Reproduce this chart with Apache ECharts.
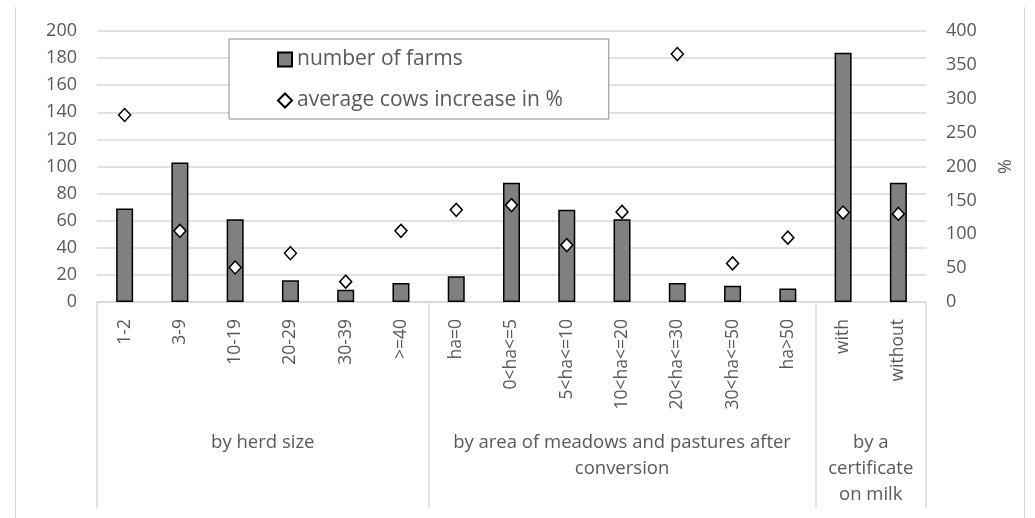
<!DOCTYPE html>
<html>
<head>
<meta charset="utf-8">
<script src="https://cdn.jsdelivr.net/npm/echarts@6/dist/echarts.min.js"></script>
<style>html,body{margin:0;padding:0;background:#fff}#chart{width:1035px;height:518px}</style>
</head>
<body>
<div id="chart"></div>
<script>
const categories = ['1-2','3-9','10-19','20-29','30-39','>=40','ha=0','0<ha<=5','5<ha<=10','10<ha<=20','20<ha<=30','30<ha<=50','ha>50','with','without'];
const numberOfFarms = [69, 103, 61, 16, 9, 14, 19, 88, 68, 61, 14, 12, 10, 184, 88];
const cowsIncrease = [276, 105, 51, 72, 30, 105, 136, 143, 84, 133, 366, 57, 95, 132, 130];
const groupNames = ['by herd size', 'by area of meadows and pastures after\nconversion', 'by a\ncertificate\non milk'];
const groupSizes = [6, 7, 2];
const leftTicks = {min: 0, max: 200, interval: 20};
const rightTicks = {min: 0, max: 400, interval: 50};

// build half-step group axis: index i corresponds to position i/2 categories
const total = categories.length;
const groupAxisData = new Array(total * 2 + 1).fill('');
const boundaryIdx = new Set([0]);
let start = 0;
groupNames.forEach((g, k) => {
  const center = start * 2 + groupSizes[k];
  groupAxisData[center] = g;
  start += groupSizes[k];
  boundaryIdx.add(start * 2);
});

const FONT = 'Open Sans';
const TXT = '#595959';
const GRID = '#d9d9d9';

const chart = echarts.init(document.getElementById('chart'));
chart.setOption({
  animation: false,
  backgroundColor: '#fff',
  textStyle: {fontFamily: FONT},
  grid: {left: 97, right: 109, top: 31, bottom: 216},
  legend: {
    orient: 'vertical', left: 229, top: 39,
    padding: [10, 46, 8, 48],
    itemGap: 20, itemWidth: 14, itemHeight: 14,
    borderColor: '#8c8c8c', borderWidth: 1, backgroundColor: '#fff',
    textStyle: {fontFamily: FONT, fontSize: 21, color: TXT},
    data: [{name: 'number of farms', icon: 'rect'}, {name: 'average cows increase in %', icon: 'diamond'}]
  },
  graphic: [
    {type: 'line', shape: {x1: 15.5, y1: 7, x2: 15.5, y2: 518}, style: {stroke: GRID, lineWidth: 1}, silent: true},
    {type: 'line', shape: {x1: 1024.5, y1: 7, x2: 1024.5, y2: 518}, style: {stroke: GRID, lineWidth: 1}, silent: true}
  ],
  xAxis: [
    {
      type: 'category', data: categories, boundaryGap: true,
      axisLine: {lineStyle: {color: GRID, width: 1.5}},
      axisTick: {show: false},
      axisLabel: {rotate: 90, interval: 0, margin: 17, fontSize: 17.5, color: TXT, fontFamily: FONT}
    },
    {
      type: 'category', data: groupAxisData, boundaryGap: false, position: 'bottom',
      axisLine: {show: false},
      axisTick: {show: true, length: 206, interval: (i) => boundaryIdx.has(i), lineStyle: {color: GRID, width: 1.5}},
      axisLabel: {interval: (i, v) => v !== '', margin: 128, fontSize: 18.5, lineHeight: 26, color: TXT, fontFamily: FONT}
    }
  ],
  yAxis: [
    {
      type: 'value', min: leftTicks.min, max: leftTicks.max, interval: leftTicks.interval,
      axisLine: {show: false}, axisTick: {show: false},
      axisLabel: {fontSize: 18, color: TXT, margin: 20, fontFamily: FONT},
      splitLine: {lineStyle: {color: GRID, width: 1.5}}
    },
    {
      type: 'value', min: rightTicks.min, max: rightTicks.max, interval: rightTicks.interval,
      name: '%', nameLocation: 'middle', nameGap: 71, nameRotate: 90,
      nameTextStyle: {fontSize: 18, color: TXT, fontFamily: FONT},
      axisLine: {show: false}, axisTick: {show: false},
      axisLabel: {fontSize: 18, color: TXT, margin: 20, fontFamily: FONT},
      splitLine: {show: false}
    }
  ],
  series: [
    {
      name: 'number of farms', type: 'bar', xAxisIndex: 0, yAxisIndex: 0,
      data: numberOfFarms, barWidth: 17,
      itemStyle: {color: '#808080', borderColor: '#000', borderWidth: 1.5}
    },
    {
      name: 'average cows increase in %', type: 'scatter', xAxisIndex: 0, yAxisIndex: 1,
      data: cowsIncrease, symbol: 'diamond', symbolSize: [12, 13],
      itemStyle: {color: '#fff', borderColor: '#000', borderWidth: 1.5, opacity: 1},
      z: 5
    }
  ]
});
</script>
</body>
</html>
